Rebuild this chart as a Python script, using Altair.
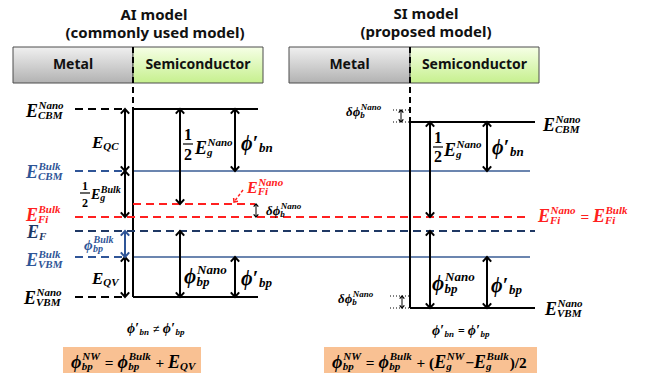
import altair as alt
import pandas as pd

W, H = 665, 377

BLACK = "#000000"
RED = "#ff2020"
BLUE = "#2f5597"
NAVY = "#1f3864"
BLUE_LINE = "#3a5d94"

# Band-edge levels, in diagram units measured downward from the top edge
ai_cbm_nano, ai_cbm_bulk, ai_fi_nano = 109, 171, 204
fi_bulk, e_fermi, ai_vbm_bulk, ai_vbm_nano = 217, 231, 257, 297
si_cbm_nano, si_vbm_nano = 122, 308
si_dphi_top = 110
si_dphi_bottom = 296

# Interface positions and extents of the drawn levels
ai_iface, si_iface = 133, 410
ai_end, si_end, bulk_end = 258, 535, 530
left_stub = (75, 125)
box_top, box_bottom = 47, 83

# Header boxes: (x1, x2, label, kind)
header_boxes = [
    (13, ai_iface, "Metal", "metal"),
    (ai_iface, 263, "Semiconductor", "semi"),
    (289, si_iface, "Metal", "metal"),
    (si_iface, 539, "Semiconductor", "semi"),
]
titles = [
    ("AI model", 154, 15), ("(commonly used model)", 155, 33),
    ("SI model", 426, 14), ("(proposed model)", 426, 32),
]
formula_boxes = [(63, 201), (324, 537)]
formula_box_y = (347, 373)

# Level lines: (x1, x2, y, colour, width)
solid_lines = [
    (ai_iface, ai_end, ai_cbm_nano, BLACK, 2),
    (ai_iface, ai_end, ai_vbm_nano, BLACK, 2),
    (si_iface, si_end, si_cbm_nano, BLACK, 2),
    (si_iface, si_end, si_vbm_nano, BLACK, 2),
    (ai_iface, bulk_end, ai_cbm_bulk, BLUE_LINE, 1.5),
    (ai_iface, bulk_end, ai_vbm_bulk, BLUE_LINE, 1.5),
]
dashed_lines = [
    (left_stub[0], left_stub[1], ai_cbm_nano, BLACK, 2),
    (left_stub[0], left_stub[1], ai_vbm_nano, BLACK, 2),
    (left_stub[0], left_stub[1], ai_cbm_bulk, BLUE, 2),
    (left_stub[0], left_stub[1], ai_vbm_bulk, BLUE, 2),
    (left_stub[0], si_end, e_fermi, NAVY, 2),
    (left_stub[0], bulk_end, fi_bulk, RED, 2),
    (ai_iface, 255, ai_fi_nano, RED, 2),
]
dotted_lines = [
    (393, si_iface, si_dphi_top),
    (393, si_iface, si_cbm_nano),
    (390, si_iface, si_dphi_bottom),
    (390, si_iface, si_vbm_nano),
]

# Double-headed arrows: (x, y_top, y_bottom, colour, big)
arrows = [
    (125, ai_cbm_nano, ai_cbm_bulk, BLACK, True),
    (125, ai_cbm_bulk, fi_bulk, BLACK, True),
    (125, e_fermi, ai_vbm_bulk, BLUE, True),
    (125, ai_vbm_bulk, ai_vbm_nano, BLACK, True),
    (180, ai_cbm_nano, ai_fi_nano, BLACK, True),
    (235, ai_cbm_nano, ai_cbm_bulk, BLACK, True),
    (180, e_fermi, ai_vbm_nano, BLACK, True),
    (235, ai_vbm_bulk, ai_vbm_nano, BLACK, True),
    (256, ai_fi_nano, fi_bulk, BLACK, False),
    (430, si_cbm_nano, fi_bulk, BLACK, True),
    (487, si_cbm_nano, ai_cbm_bulk, BLACK, True),
    (430, e_fermi, si_vbm_nano, BLACK, True),
    (487, ai_vbm_bulk, si_vbm_nano, BLACK, True),
    (401, si_dphi_top, si_cbm_nano, BLACK, False),
    (402, si_dphi_bottom, si_vbm_nano, BLACK, False),
]

# Pointer from the E_Fi^Nano label to its level
pointer = (243, 190, 234, 202)

# Fractions 1/2: (centre x, numerator baseline, bar y, denominator baseline, size)
fractions = [
    (188, 140, 144, 160, 16),
    (85, 190, 193, 207, 12),
    (438, 143, 147, 162, 16),
]

M, O = "math", "op"
# Math labels: (x, baseline, base size, script size, colour, [(base, sup, sub, kind)])
labels = [
    (26, 117, 18, 11, BLACK, [("E", "Nano", "CBM", M)]),
    (26, 178, 18, 11, BLUE, [("E", "Bulk", "CBM", M)]),
    (26, 221, 18, 11, RED, [("E", "Bulk", "Fi", M)]),
    (27, 238, 18, 11, NAVY, [("E", None, "F", M)]),
    (26, 266, 18, 11, BLUE, [("E", "Bulk", "VBM", M)]),
    (24, 304, 18, 11, BLACK, [("E", "Nano", "VBM", M)]),
    (92, 148, 17, 11, BLACK, [("E", None, "QC", M)]),
    (91, 199, 14, 10, BLACK, [("E", "Bulk", "g", M)]),
    (195, 154, 18, 11, BLACK, [("E", "Nano", "g", M)]),
    (241, 150, 20, 13, BLACK, [("ϕ′", None, "bn", M)]),
    (247, 193, 16, 11, RED, [("E", "Nano", "Fi", M)]),
    (266, 215, 13, 9, BLACK, [("δϕ", "Nano", "b", M)]),
    (84, 250, 15, 10, BLUE, [("ϕ", "Bulk", "bp", M)]),
    (92, 284, 17, 11, BLACK, [("E", None, "QV", M)]),
    (184, 283, 21, 13, BLACK, [("ϕ", "Nano", "bp", M)]),
    (241, 285, 20, 13, BLACK, [("ϕ′", None, "bp", M)]),
    (127, 333, 14, 9, BLACK, [("ϕ′", None, "bn", M), (" ≠ ", None, None, O), ("ϕ′", None, "bp", M)]),
    (71, 368, 18, 11, BLACK, [("ϕ", "NW", "bp", M), (" = ", None, None, O),
                              ("ϕ", "Bulk", "bp", M), (" + ", None, None, O),
                              ("E", None, "QV", M)]),
    (346, 116, 13, 9, BLACK, [("δϕ", "Nano", "b", M)]),
    (543, 131, 18, 11, BLACK, [("E", "Nano", "CBM", M)]),
    (444, 156, 18, 11, BLACK, [("E", "Nano", "g", M)]),
    (492, 154, 20, 13, BLACK, [("ϕ′", None, "bn", M)]),
    (538, 222, 18, 11, RED, [("E", "Nano", "Fi", M), (" = ", None, None, O),
                             ("E", "Bulk", "Fi", M)]),
    (432, 290, 21, 13, BLACK, [("ϕ", "Nano", "bp", M)]),
    (491, 292, 20, 13, BLACK, [("ϕ′", None, "bp", M)]),
    (338, 303, 13, 9, BLACK, [("δϕ", "Nano", "b", M)]),
    (545, 315, 18, 11, BLACK, [("E", "Nano", "VBM", M)]),
    (432, 335, 14, 9, BLACK, [("ϕ′", None, "bn", M), (" = ", None, None, O), ("ϕ′", None, "bp", M)]),
    (332, 368, 18, 11, BLACK, [("ϕ", "NW", "bp", M), (" = ", None, None, O),
                               ("ϕ", "Bulk", "bp", M), (" + (", None, None, O),
                               ("E", "NW", "g", M), ("−", None, None, O),
                               ("E", "Bulk", "g", M), (")/2", None, None, O)]),
]

# Advance widths (em) for a Times-metric bold italic face
ADV = {
    'A': .667, 'B': .667, 'C': .667, 'E': .667, 'F': .667, 'M': .889, 'N': .722,
    'Q': .722, 'V': .667, 'W': .889, 'a': .5, 'b': .5, 'g': .5, 'i': .278, 'k': .5,
    'l': .278, 'n': .556, 'o': .5, 'p': .5, 'u': .556, '1': .5, '2': .5, '/': .278,
    '(': .333, ')': .333, '=': .57, '+': .57, '−': .57, '≠': .57, ' ': .25,
    'ϕ': .6, 'δ': .5, '′': .3,
}


def text_width(s, size):
    return sum(ADV.get(c, .55) for c in s) * size


def compose(x, y, bs, ss, color, groups):
    rows = []
    cx = x
    for base, sup, sub, kind in groups:
        size = bs if kind == M else bs * 0.85
        # SVG drops leading blanks, so spacing is applied as an offset
        lead = len(base) - len(base.lstrip(" "))
        shown = base.strip(" ")
        rows.append(dict(x=cx + lead * ADV[" "] * size, y=y, text=shown, size=size,
                         color=color, kind=kind))
        cx += text_width(base, size)
        w = 0
        if sup:
            rows.append(dict(x=cx + 0.5, y=y - 0.45 * bs, text=sup, size=ss, color=color, kind=M))
            w = max(w, text_width(sup, ss) + 0.5)
        if sub:
            rows.append(dict(x=cx, y=y + 0.12 * bs, text=sub, size=ss, color=color, kind=M))
            w = max(w, text_width(sub, ss))
        cx += w + (1 if w else 0)
    return rows


text_rows = []
for x, y, bs, ss, color, groups in labels:
    text_rows += compose(x, y, bs, ss, color, groups)
for cx, yn, yb, yd, size in fractions:
    text_rows.append(dict(x=cx, y=yn, text="1", size=size, color=BLACK, kind="frac"))
    text_rows.append(dict(x=cx, y=yd, text="2", size=size, color=BLACK, kind="frac"))
texts = pd.DataFrame(text_rows)

XS = alt.Scale(domain=[0, W], range=[0, W], nice=False, zero=False)
YS = alt.Scale(domain=[0, H], range=[0, H], nice=False, zero=False)


def X(f="x"):
    return alt.X(f"{f}:Q", scale=XS, axis=None)


def Y(f="y"):
    return alt.Y(f"{f}:Q", scale=YS, axis=None)


layers = []

# Header boxes with shaded fills
hb = pd.DataFrame([dict(x=a, x2=b, y=box_top, y2=box_bottom, label=t, kind=k)
                   for a, b, t, k in header_boxes])
metal_fill = alt.Gradient(gradient="linear", x1=0, y1=0, x2=0, y2=1,
                          stops=[alt.GradientStop(color="#f0f0f0", offset=0),
                                 alt.GradientStop(color="#b2b2b2", offset=1)])
semi_fill = alt.Gradient(gradient="linear", x1=0, y1=0, x2=0, y2=1,
                         stops=[alt.GradientStop(color="#f6ffe6", offset=0),
                                alt.GradientStop(color="#c6f08e", offset=1)])
for kind, fill in (("metal", metal_fill), ("semi", semi_fill)):
    layers.append(
        alt.Chart(hb[hb.kind == kind]).mark_rect(fill=fill, stroke="#4d4d4d", strokeWidth=1)
        .encode(x=X(), x2="x2:Q", y=Y(), y2="y2:Q")
    )

# Formula boxes
fb = pd.DataFrame([dict(x=a, x2=b, y=formula_box_y[0], y2=formula_box_y[1]) for a, b in formula_boxes])
layers.append(alt.Chart(fb).mark_rect(fill="#f9c193").encode(x=X(), x2="x2:Q", y=Y(), y2="y2:Q"))


def seg_chart(rows, **mark):
    df = pd.DataFrame(rows, columns=["x", "x2", "y", "y2", "color", "w"])
    return alt.Chart(df).mark_rule(**mark).encode(
        x=X(), x2="x2:Q", y=Y(), y2="y2:Q",
        color=alt.Color("color:N", scale=None),
        strokeWidth=alt.StrokeWidth("w:Q", scale=None),
    )


solid_rows = [(a, b, y, y, c, w) for a, b, y, c, w in solid_lines]
solid_rows += [(ai_iface, ai_iface, ai_cbm_nano, ai_vbm_nano, BLACK, 2),
               (si_iface, si_iface, si_cbm_nano, si_vbm_nano, BLACK, 2)]
dashed_rows = [(a, b, y, y, c, w) for a, b, y, c, w in dashed_lines]
iface_rows = [(ai_iface, ai_iface, box_top, ai_cbm_nano, BLACK, 2),
              (si_iface, si_iface, box_top, si_cbm_nano, BLACK, 2)]
dotted_rows = [(a, b, y, y, BLACK, 1) for a, b, y in dotted_lines]
pointer_rows = [(pointer[0], pointer[2], pointer[1], pointer[3], RED, 1.5)]

layers.append(seg_chart(solid_rows))
layers.append(seg_chart(dashed_rows, strokeDash=[8, 5]))
layers.append(seg_chart(iface_rows, strokeDash=[6, 4]))
layers.append(seg_chart(dotted_rows, strokeDash=[1, 2]))
layers.append(seg_chart(pointer_rows, strokeDash=[3, 2]))

# Fraction bars
bar_rows = [(cx - 5, cx + 5, yb, yb, BLACK, 1.2) for cx, yn, yb, yd, s in fractions]
layers.append(seg_chart(bar_rows))

# Arrows: shaft plus open chevron heads
shaft_rows = [(x, x, a, b, c, 2 if big else 1) for x, a, b, c, big in arrows]
layers.append(seg_chart(shaft_rows))
head_rows = []
for x, a, b, c, big in arrows:
    head_rows.append(dict(x=x, y=a, color=c, s=70 if big else 22, w=2 if big else 1.2, dir="up"))
    head_rows.append(dict(x=x, y=b, color=c, s=70 if big else 22, w=2 if big else 1.2, dir="down"))
heads = pd.DataFrame(head_rows)
for d, path in (("up", "M-1,1.1L0,0L1,1.1"), ("down", "M-1,-1.1L0,0L1,-1.1")):
    layers.append(
        alt.Chart(heads[heads.dir == d]).mark_point(shape=path, filled=False, opacity=1, strokeJoin="miter")
        .encode(x=X(), y=Y(), color=alt.Color("color:N", scale=None),
                size=alt.Size("s:Q", scale=None), strokeWidth=alt.StrokeWidth("w:Q", scale=None))
    )
ptr_head = pd.DataFrame([dict(x=pointer[2], y=pointer[3], color=RED)])
layers.append(
    alt.Chart(ptr_head).mark_point(shape="M-1,1.1L0,0L1,1.1", filled=False, opacity=1, size=30,
                                   strokeWidth=1.5, angle=217)
    .encode(x=X(), y=Y(), color=alt.Color("color:N", scale=None))
)

# Math text
for kind, style, weight in ((M, "italic", "bold"), (O, "normal", "bold"), ("frac", "normal", "bold")):
    layers.append(
        alt.Chart(texts[texts.kind == kind]).mark_text(
            font="Liberation Serif", fontStyle=style, fontWeight=weight,
            align="center" if kind == "frac" else "left", baseline="alphabetic")
        .encode(x=X(), y=Y(), text="text:N", size=alt.Size("size:Q", scale=None),
                color=alt.Color("color:N", scale=None))
    )

# Titles and box labels
sans = pd.DataFrame([dict(x=x, y=y, text=t, size=15) for t, x, y in titles] +
                    [dict(x=(a + b) / 2, y=(box_top + box_bottom) / 2, text=t, size=14)
                     for a, b, t, k in header_boxes])
layers.append(
    alt.Chart(sans).mark_text(font="Noto Sans", fontWeight="bold", align="center",
                              baseline="middle", color="#111111")
    .encode(x=X(), y=Y(), text="text:N", size=alt.Size("size:Q", scale=None))
)

chart = alt.layer(*layers).properties(
    width=W, height=H, autosize="none", padding=0, background="white"
).configure_view(stroke=None)

chart.save("out.html", embed_options={"renderer": "svg", "actions": False})
